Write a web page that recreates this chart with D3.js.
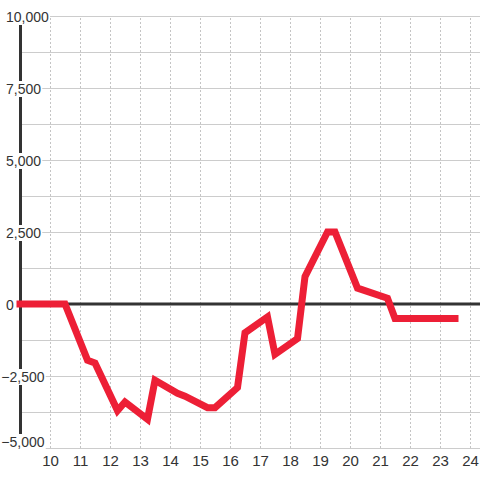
<!DOCTYPE html>
<html>
<head>
<meta charset="utf-8">
<script src="https://cdn.jsdelivr.net/npm/d3@7"></script>
<style>
  body { margin: 0; background: #fff; }
  text { font-family: "Liberation Sans", Arial, sans-serif; }
</style>
</head>
<body>
<svg id="chart" width="480" height="480"></svg>
<script>
// data: hour of day vs value
var hours  = [9, 10.5, 11.25, 11.5, 12.25, 12.5, 13.25, 13.5, 14.25, 14.5, 15.25, 15.5,
              16.25, 16.5, 17.25, 17.5, 18.25, 18.5, 19.25, 19.5, 20.25, 21.25, 21.5, 23.5];
var values = [0, 0, -1950, -2050, -3700, -3400, -4000, -2650, -3100, -3200, -3600, -3600,
              -2900, -1000, -450, -1750, -1200, 950, 2500, 2500, 550, 200, -500, -500];
var xTicks = d3.range(10, 25);
var yLabels = [10000, 7500, 5000, 2500, 0, -2500, -5000];
var yGrid = d3.range(-5000, 10001, 1250);

var svg = d3.select("#chart");
var x = d3.scaleLinear().domain([9, 24]).range([20, 470]);
var y = d3.scaleLinear().domain([-5000, 10000]).range([448, 16]);

// horizontal grid
var hGrid = svg.append("g")
    .attr("transform", "translate(20,0)")
    .call(d3.axisLeft(y).tickValues(yGrid).tickSize(-460).tickFormat(""));
hGrid.select(".domain").remove();
hGrid.selectAll("line").attr("stroke", "#cccccc");

// axis bar
svg.append("line")
    .attr("x1", 20.5).attr("x2", 20.5)
    .attr("y1", y(10000)).attr("y2", y(-5000))
    .attr("stroke", "#333").attr("stroke-width", 3);

// y labels with white backing
var fmt = d3.format(",");
var yl = svg.append("g").selectAll("g")
    .data(yLabels)
    .enter().append("g");
yl.append("text")
    .attr("x", function(d) { return d < 0 ? 1.3 : 6; })
    .attr("y", function(d) { return Math.min(y(d) + 6, 447); })
    .attr("font-size", 14)
    .attr("fill", "#333")
    .text(function(d) { return fmt(d); });
yl.each(function() {
  var g = d3.select(this);
  var b = g.select("text").node().getBBox();
  g.insert("rect", "text")
      .attr("x", b.x - 1).attr("y", b.y)
      .attr("width", b.width + 2).attr("height", b.height)
      .attr("fill", "#fff");
});

// vertical dashed grid
var vGrid = svg.append("g")
    .attr("transform", "translate(0,448)")
    .call(d3.axisBottom(x).tickValues(xTicks).tickSize(-432).tickFormat(""));
vGrid.select(".domain").remove();
vGrid.selectAll("line").attr("stroke", "#c4c4c4").attr("stroke-dasharray", "2,2");

// x labels
var xAxis = svg.append("g")
    .attr("transform", "translate(0,448)")
    .call(d3.axisBottom(x).tickValues(xTicks).tickSize(0).tickPadding(7));
xAxis.select(".domain").remove();
xAxis.selectAll("text")
    .attr("font-size", 15)
    .attr("font-family", "'Liberation Sans', Arial, sans-serif")
    .attr("fill", "#333");

// zero line
svg.append("line")
    .attr("x1", 20).attr("x2", 480)
    .attr("y1", y(0)).attr("y2", y(0))
    .attr("stroke", "#333").attr("stroke-width", 3);

// series
var line = d3.line()
    .x(function(d, i) { return x(hours[i]); })
    .y(function(d) { return y(d); });

svg.append("path")
    .datum(values)
    .attr("d", line)
    .attr("fill", "none")
    .attr("stroke", "#ED1F36")
    .attr("stroke-width", 7)
    .attr("stroke-linejoin", "miter")
    .attr("stroke-linecap", "square");
</script>
</body>
</html>
